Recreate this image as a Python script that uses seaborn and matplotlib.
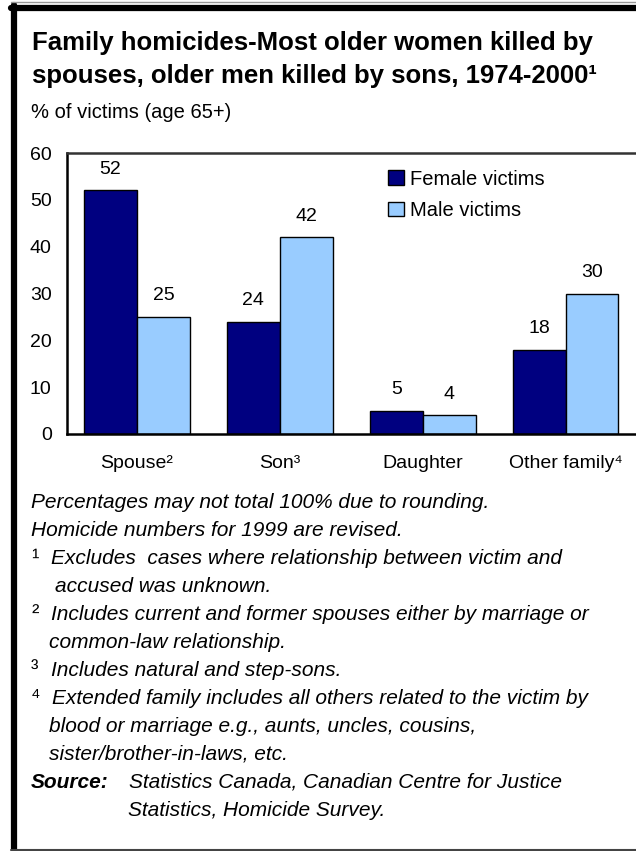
import matplotlib
matplotlib.use("Agg")
import matplotlib.pyplot as plt
import seaborn as sns
import pandas as pd
from matplotlib.patches import Rectangle
from matplotlib.lines import Line2D

categories = ["Spouse²", "Son³", "Daughter", "Other family⁴"]
female_victims = [52, 24, 5, 18]
male_victims = [25, 42, 4, 30]
series_names = ["Female victims", "Male victims"]
y_ticks = [0, 10, 20, 30, 40, 50, 60]

title_lines = ["Family homicides-Most older women killed by",
               "spouses, older men killed by sons, 1974-2000¹"]
subtitle = "% of victims (age 65+)"

# (marker, text, text indent in px, row centre in px)
notes = [
    ("", "Percentages may not total 100% due to rounding.", 31, 502),
    ("", "Homicide numbers for 1999 are revised.", 31, 530),
    ("¹", "Excludes  cases where relationship between victim and", 51, 558),
    ("", "accused was unknown.", 55, 586),
    ("²", "Includes current and former spouses either by marriage or", 51, 614),
    ("", "common-law relationship.", 49, 642),
    ("³", "Includes natural and step-sons.", 51, 670),
    ("⁴", "Extended family includes all others related to the victim by", 52, 698),
    ("", "blood or marriage e.g., aunts, uncles, cousins,", 49, 726),
    ("", "sister/brother-in-laws, etc.", 49, 754),
]
source_label = "Source:"
source_lines = ["Statistics Canada, Canadian Centre for Justice",
                "Statistics, Homicide Survey."]

df = pd.DataFrame({
    "category": categories * 2,
    "value": female_victims + male_victims,
    "series": [series_names[0]] * 4 + [series_names[1]] * 4,
})

sns.set_style("white")
plt.rcParams["font.family"] = ["Liberation Sans", "DejaVu Sans"]
plt.rcParams["text.color"] = "black"
plt.rcParams["xtick.color"] = "black"
plt.rcParams["ytick.color"] = "black"
plt.rcParams["axes.labelcolor"] = "black"

W, H = 636, 851
fig = plt.figure(figsize=(W / 100, H / 100), dpi=100)

def fx(px):
    return px / W

def fy(py):
    return 1 - py / H

ax = fig.add_axes([fx(67), fy(434), fx(637) - fx(67), fy(153) - fy(434)])
palette = {series_names[0]: "#000080", series_names[1]: "#99CCFF"}
sns.barplot(data=df, x="category", y="value", hue="series", palette=palette,
            order=categories, hue_order=series_names, width=0.74,
            edgecolor="black", linewidth=1.0, saturation=1, ax=ax, legend=False)

for cont in ax.containers:
    ax.bar_label(cont, labels=[f"{v:g}" for v in cont.datavalues],
                 padding=9, fontsize=14, color="black")

ax.set_xlim(-0.49, 3.5)
ax.set_ylim(0, 60)
ax.set_yticks(y_ticks)
ax.set_xlabel("")
ax.set_ylabel("")
ax.tick_params(axis="y", length=0, pad=11, labelsize=14)
ax.tick_params(axis="x", length=0, pad=15, labelsize=14)
for s in ["left", "bottom"]:
    ax.spines[s].set_linewidth(1.8)
    ax.spines[s].set_color("black")
ax.spines["top"].set_linewidth(1.8)
ax.spines["top"].set_color("#333333")
ax.spines["right"].set_visible(False)

handles = [Rectangle((0, 0), 1, 1, facecolor=palette[n], edgecolor="black", linewidth=1.0)
           for n in series_names]
ax.legend(handles, series_names, loc="upper left", bbox_to_anchor=(0.564, 0.94),
          frameon=False, fontsize=14.5, handlelength=0.75, handleheight=0.75,
          handletextpad=0.3, labelspacing=0.6, borderaxespad=0, borderpad=0)

# Title block
fig.text(fx(32), fy(50), title_lines[0], fontsize=18.5, fontweight="bold", va="baseline")
fig.text(fx(32), fy(83), title_lines[1], fontsize=18.5, fontweight="bold", va="baseline")
fig.text(fx(31), fy(118), subtitle, fontsize=14.5, va="baseline")

# Notes
for marker, text, x, y in notes:
    if marker:
        fig.text(fx(31), fy(y), marker, fontsize=16, va="center")
    fig.text(fx(x), fy(y), text, fontsize=15, style="italic", va="center")
fig.text(fx(31), fy(782), source_label, fontsize=15, style="italic",
         fontweight="bold", va="center")
fig.text(fx(129), fy(782), source_lines[0], fontsize=15, style="italic", va="center")
fig.text(fx(128), fy(810), source_lines[1], fontsize=15, style="italic", va="center")

# Frame around the panel
fig.add_artist(Line2D([fx(13.5), fx(13.5)], [fy(5), fy(849)], color="black",
                      linewidth=4.5, transform=fig.transFigure))
fig.add_artist(Line2D([fx(11), 1], [fy(7.5), fy(7.5)], color="black",
                      linewidth=4.5, transform=fig.transFigure))
fig.add_artist(Line2D([fx(11), 1], [fy(2), fy(2)], color="#999999",
                      linewidth=1, transform=fig.transFigure))
fig.add_artist(Line2D([fx(11), 1], [fy(849.5), fy(849.5)], color="#444444",
                      linewidth=1.5, transform=fig.transFigure))

fig.savefig("out.png", dpi=100)
